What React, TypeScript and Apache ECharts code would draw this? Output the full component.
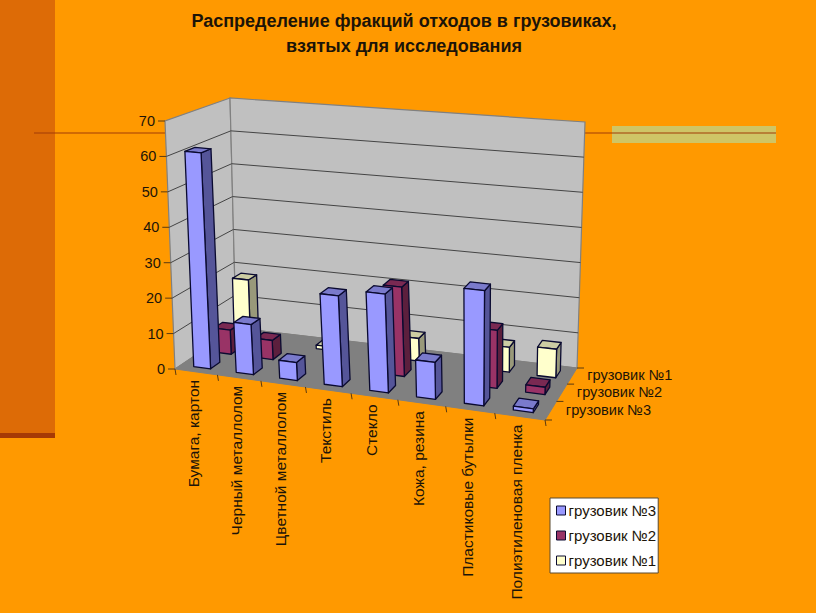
import React, { useEffect, useRef } from "react";
import * as echarts from "echarts";

const titleText = "Распределение фракций отходов в грузовиках,\nвзятых для исследования";
const categories = ["Бумага, картон", "Черный металлолом", "Цветной металлолом", "Текстиль", "Стекло", "Кожа, резина", "Пластиковые бутылки", "Полиэтиленовая пленка"];
const truck3 = [61, 14, 5, 25, 27, 10, 31, 1];
const truck2 = [7, 5.5, 0, 0, 25, 0, 16, 2];
const truck1 = [18, 0, 1, 0, 6.5, 0, 7, 8];
const valueTicks = [0, 10, 20, 30, 40, 50, 60, 70];
const depthNames = ["грузовик №3", "грузовик №2", "грузовик №1"];

const FONT = '"Liberation Sans", Arial, sans-serif';
const INK = "#1c1408";

type Pt = [number, number];
// corners: front-left, front-right, back-right, back-left
const FLOOR: Pt[] = [[175, 369], [545, 420], [577, 368], [236, 328]];
const TOP: Pt[] = [[165, 121], [558, 156], [585, 122], [230, 98]];

function homography(q: Pt[]) {
  const [[x0, y0], [x1, y1], [x2, y2], [x3, y3]] = q;
  const dx1 = x1 - x2, dx2 = x3 - x2, sx = x0 - x1 + x2 - x3;
  const dy1 = y1 - y2, dy2 = y3 - y2, sy = y0 - y1 + y2 - y3;
  const det = dx1 * dy2 - dx2 * dy1;
  const g = (sx * dy2 - dx2 * sy) / det;
  const h = (dx1 * sy - sx * dy1) / det;
  const a = x1 - x0 + g * x1, b = x3 - x0 + h * x3, d = y1 - y0 + g * y1, e = y3 - y0 + h * y3;
  return (u: number, v: number): Pt => {
    const w = g * u + h * v + 1;
    return [(a * u + b * v + x0) / w, (d * u + e * v + y0) / w];
  };
}
const hFloor = homography(FLOOR);
const hTop = homography(TOP);
function P(u0: number, v: number, w: number): Pt {
  const u = u0 + 0.05 * u0 * (1 - u0);
  const f = hFloor(u, v), t = hTop(u, v);
  return [f[0] + (t[0] - f[0]) * w, f[1] + (t[1] - f[1]) * w];
}
function norm(api: any, params: any, c: number, val: number) {
  const cs = params.coordSys;
  const p = api.coord([c, val]);
  return { u: (p[0] - cs.x) / cs.width, w: 1 - (p[1] - cs.y) / cs.height, band: api.size([1, 0])[0] / cs.width };
}

function barSeries(name: string, values: number[], row: number, colors: string[]) {
  return {
    type: "custom",
    name,
    coordinateSystem: "cartesian2d",
    itemStyle: { color: colors[0] },
    z: 5 + (2 - row),
    data: values.map((v, i) => [i, v]),
    renderItem(params: any, api: any) {
      const v = api.value(1);
      if (!v) return null;
      const { u, w, band } = norm(api, params, api.value(0), v);
      const hw = band * 0.2;
      const u0 = u - hw, u1 = u + hw;
      const v0 = (row + 0.5 - 0.22) / 3, v1 = (row + 0.5 + 0.22) / 3;
      const stroke = { stroke: "#0a0a30", lineWidth: 1.3, lineJoin: "round" };
      return {
        type: "group",
        children: [
          { type: "polygon", shape: { points: [P(u1, v0, 0), P(u1, v1, 0), P(u1, v1, w), P(u1, v0, w)] }, style: { fill: colors[2], ...stroke } },
          { type: "polygon", shape: { points: [P(u0, v0, w), P(u1, v0, w), P(u1, v1, w), P(u0, v1, w)] }, style: { fill: colors[1], ...stroke } },
          { type: "polygon", shape: { points: [P(u0, v0, 0), P(u1, v0, 0), P(u1, v0, w), P(u0, v0, w)] }, style: { fill: colors[0], ...stroke } },
        ],
      };
    },
  };
}

export default function App() {
  const ref = useRef<HTMLDivElement>(null);
  useEffect(() => {
    document.body.style.margin = "0";
    const chart = echarts.init(ref.current!, null, { renderer: "svg" });
    const wallSeries = {
      type: "custom",
      coordinateSystem: "cartesian2d",
      z: 2,
      silent: true,
      data: [[0, 0]],
      renderItem() {
        const wall = { fill: "#c0c0c0", stroke: "#808080", lineWidth: 1.2 };
        return {
          type: "group",
          children: [
            { type: "polygon", shape: { points: [P(0, 0, 0), P(0, 1, 0), P(0, 1, 1), P(0, 0, 1)] }, style: wall },
            { type: "polygon", shape: { points: [P(0, 1, 0), P(1, 1, 0), P(1, 1, 1), P(0, 1, 1)] }, style: wall },
            { type: "polygon", shape: { points: [P(0, 0, 0), P(1, 0, 0), P(1, 1, 0), P(0, 1, 0)] }, style: { fill: "#808080", stroke: "#808080", lineWidth: 1 } },
          ],
        };
      },
    };
    const tickSeries = {
      type: "custom",
      coordinateSystem: "cartesian2d",
      z: 3,
      silent: true,
      data: valueTicks.map((t) => [0, t]),
      renderItem(params: any, api: any) {
        const t = api.value(1);
        const { w } = norm(api, params, 0, t);
        const a = P(0, 0, w), b = P(0, 1, w), c = P(1, 1, w);
        const dark = { stroke: "#444", lineWidth: 1, fill: "none" };
        const kids: any[] = [
          { type: "line", shape: { x1: a[0] - 7, y1: a[1], x2: a[0], y2: a[1] }, style: { stroke: "#5a3a10", lineWidth: 1 } },
          { type: "text", style: { text: String(t), x: a[0] - 10, y: a[1], align: "right", verticalAlign: "middle", fill: INK, font: `14.5px ${FONT}` } },
        ];
        if (t > 0 && t < 70) {
          kids.push({ type: "polyline", shape: { points: [a, b, c] }, style: dark });
        }
        return { type: "group", children: kids };
      },
    };
    const catLabelSeries = {
      type: "custom",
      coordinateSystem: "cartesian2d",
      z: 3,
      silent: true,
      data: categories.map((_, i) => [i, 0]),
      renderItem(params: any, api: any) {
        const i = api.value(0);
        const { u, band } = norm(api, params, i, 0);
        const p = P(u, 0, 0);
        const e = P(u + band / 2, 0, 0);
        const kids: any[] = [
          { type: "line", shape: { x1: e[0], y1: e[1], x2: e[0] + 1, y2: e[1] + 6 }, style: { stroke: "#5a3a10", lineWidth: 1 } },
          { type: "text", x: p[0] - 3, y: p[1] + 8, rotation: Math.PI / 2, style: { text: categories[i], x: 0, y: 0, align: "right", verticalAlign: "middle", fill: INK, font: `15.5px ${FONT}` } },
        ];
        if (i === 0) {
          const s = P(0, 0, 0);
          kids.push({ type: "line", shape: { x1: s[0], y1: s[1], x2: s[0] + 1, y2: s[1] + 6 }, style: { stroke: "#5a3a10", lineWidth: 1 } });
        }
        return { type: "group", children: kids };
      },
    };
    const depthLabelSeries = {
      type: "custom",
      coordinateSystem: "cartesian2d",
      z: 3,
      silent: true,
      data: depthNames.map((_, i) => [0, i]),
      renderItem(params: any, api: any) {
        const i = api.value(1);
        const p = P(1, (i + 0.5) / 3, 0);
        const t0 = P(1, i / 3, 0);
        const kids: any[] = [
          { type: "line", shape: { x1: t0[0], y1: t0[1], x2: t0[0] + 7, y2: t0[1] }, style: { stroke: "#5a3a10", lineWidth: 1 } },
          { type: "text", style: { text: depthNames[i], x: p[0] + 15, y: p[1] - 1, align: "left", verticalAlign: "middle", fill: INK, font: `14.6px ${FONT}` } },
        ];
        if (i === 2) {
          const t1 = P(1, 1, 0);
          kids.push({ type: "line", shape: { x1: t1[0], y1: t1[1], x2: t1[0] + 7, y2: t1[1] }, style: { stroke: "#5a3a10", lineWidth: 1 } });
        }
        return { type: "group", children: kids };
      },
    };
    const c3 = ["#9999ff", "#7a7acc", "#555599"];
    const c2 = ["#993366", "#7a2952", "#5c1f3d"];
    const c1 = ["#ffffcc", "#cccca3", "#99997a"];
    chart.setOption({
      animation: false,
      backgroundColor: "#ff9900",
      title: {
        text: titleText,
        left: 399,
        top: 3,
        textAlign: "center",
        textStyle: { fontFamily: FONT, fontSize: 18, fontWeight: "bold", color: "#1c1408", lineHeight: 25 },
      },
      grid: { left: 0, right: 0, top: 0, bottom: 0 },
      xAxis: { type: "category", data: categories, show: false },
      yAxis: { type: "value", min: 0, max: 70, interval: 10, show: false },
      legend: {
        orient: "vertical",
        left: 550,
        top: 498,
        padding: [5, 2, 5, 6],
        backgroundColor: "#ffffff",
        borderColor: "#5a4a30",
        borderWidth: 1,
        itemGap: 10,
        itemWidth: 9,
        itemHeight: 9,
        icon: "rect",
        selectedMode: false,
        textStyle: { fontFamily: FONT, fontSize: 15, color: INK, padding: [0, 0, 0, -2] },
        data: [
          { name: depthNames[0], itemStyle: { color: c3[0], borderColor: "#0a0a30", borderWidth: 1 } },
          { name: depthNames[1], itemStyle: { color: c2[0], borderColor: "#0a0a30", borderWidth: 1 } },
          { name: depthNames[2], itemStyle: { color: c1[0], borderColor: "#0a0a30", borderWidth: 1 } },
        ],
      },
      graphic: [
        { type: "rect", z: 0, shape: { x: 0, y: 0, width: 55, height: 434 }, style: { fill: "#dd6b06" } },
        { type: "rect", z: 0, shape: { x: 0, y: 433, width: 55, height: 5 }, style: { fill: "#a63a05" } },
        { type: "rect", z: 0, shape: { x: 612, y: 126, width: 164, height: 17 }, style: { fill: "#cfc566" } },
        { type: "line", z: 1, shape: { x1: 34, y1: 133, x2: 776, y2: 133 }, style: { stroke: "#a23c06", lineWidth: 1.2 } },
      ],
      series: [
        wallSeries,
        tickSeries,
        catLabelSeries,
        depthLabelSeries,
        barSeries(depthNames[2], truck1, 2, c1),
        barSeries(depthNames[1], truck2, 1, c2),
        barSeries(depthNames[0], truck3, 0, c3),
      ],
    });
    return () => chart.dispose();
  }, []);
  return <div ref={ref} style={{ position: "absolute", left: 0, top: 0, width: 816, height: 613 }} />;
}
